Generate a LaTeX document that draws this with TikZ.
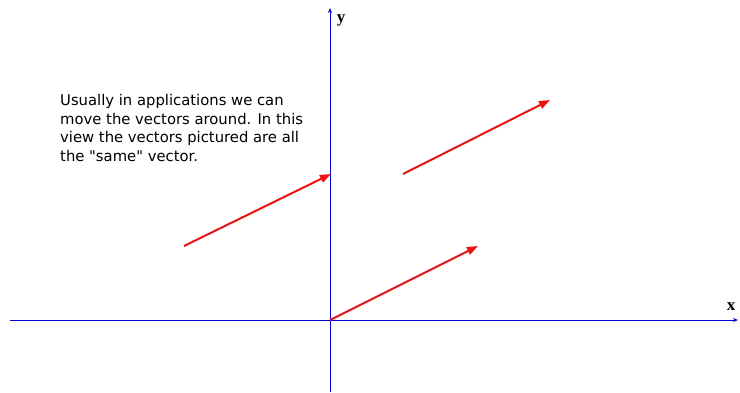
\documentclass[tikz,border=0pt]{standalone}
\usepackage{fontspec}
\setmainfont{DejaVu Sans}[Ligatures=TeXOff]
\newfontfamily\labfont{Liberation Serif}
\usetikzlibrary{arrows.meta}
\definecolor{axisblue}{RGB}{0,0,210}
\definecolor{vecred}{RGB}{235,20,20}
\begin{document}
\begin{tikzpicture}[x=1pt,y=-1pt,
  axis/.style={draw=axisblue,line width=0.9pt,-{Stealth[length=5pt,width=4pt]}},
  vec/.style={draw=vecred,line width=2pt,-{Triangle[length=11pt,width=8pt]}},
  lab/.style={font=\labfont\bfseries\fontsize{17}{17}\selectfont,inner sep=0pt},
  txt/.style={align=left,inner sep=0pt,font=\fontsize{14.8}{18.7}\selectfont,anchor=north west}]
\useasboundingbox (0,0) rectangle (740,392);
\fill[white] (0,0) rectangle (740,392);
\coordinate (xl) at (10,320);
\coordinate (xr) at (738,320);
\coordinate (yb) at (330,392);
\coordinate (yt) at (330,8);
\draw[axis] (xl) -- (xr);
\draw[axis] (yb) -- (yt);
\node[lab] (ylab) at (341,20) {y};
\node[lab] (xlab) at (731,307) {x};
\coordinate (o) at (330,320);
\coordinate (a1) at (478,246);
\coordinate (b0) at (184,246);
\coordinate (b1) at (331,174);
\coordinate (c0) at (403,174);
\coordinate (c1) at (550,100);
\draw[vec] (o) -- (a1);
\draw[vec] (b0) -- (b1);
\draw[vec] (c0) -- (c1);
\node[txt] (t) at (60,94) {Usually in applications we can\\move the vectors around. In this\\view the vectors pictured are all\\the "same" vector.};
\end{tikzpicture}
\end{document}
